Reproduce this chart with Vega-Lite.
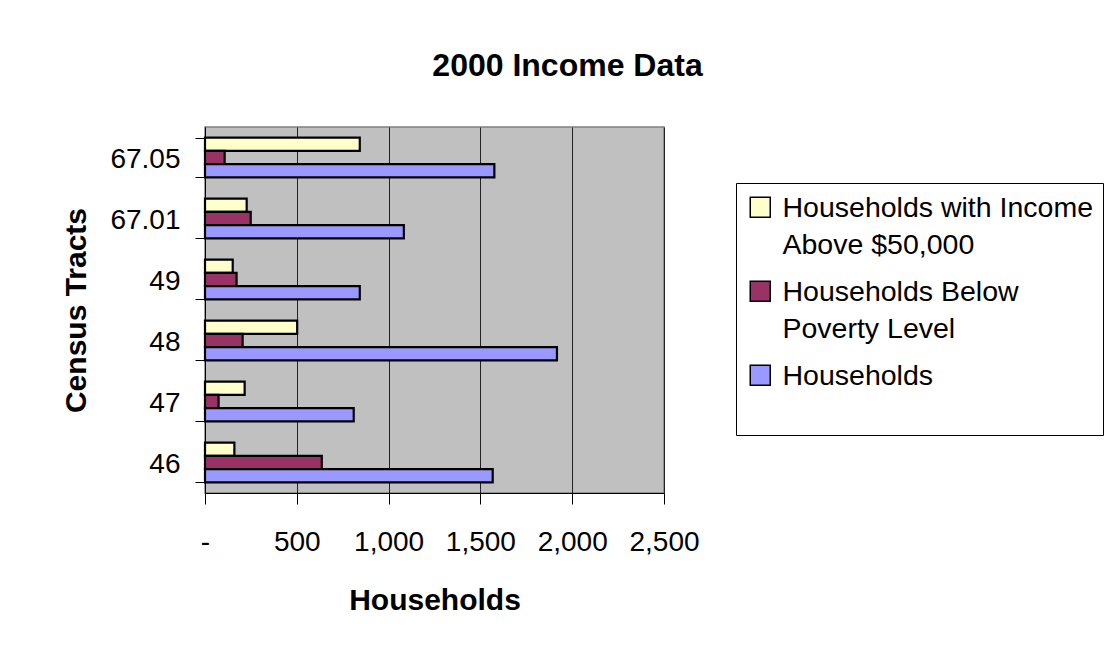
{
  "$schema": "https://vega.github.io/schema/vega-lite/v6.json",
  "width": 459,
  "height": 366,
  "autosize": {"type": "none"},
  "padding": {"left": 205, "top": 127, "right": 448, "bottom": 167},
  "background": "white",
  "title": {
    "text": "2000 Income Data",
    "font": "Liberation Sans",
    "fontSize": 32,
    "fontWeight": "bold",
    "color": "black",
    "anchor": "middle",
    "frame": "group",
    "baseline": "alphabetic",
    "dx": 133,
    "offset": 5
  },
  "data": {
    "values": [
      {"tract": "67.05", "series": "Households with Income Above $50,000", "value": 843},
      {"tract": "67.05", "series": "Households Below Poverty Level", "value": 107},
      {"tract": "67.05", "series": "Households", "value": 1576},
      {"tract": "67.01", "series": "Households with Income Above $50,000", "value": 227},
      {"tract": "67.01", "series": "Households Below Poverty Level", "value": 249},
      {"tract": "67.01", "series": "Households", "value": 1083},
      {"tract": "49", "series": "Households with Income Above $50,000", "value": 151},
      {"tract": "49", "series": "Households Below Poverty Level", "value": 172},
      {"tract": "49", "series": "Households", "value": 843},
      {"tract": "48", "series": "Households with Income Above $50,000", "value": 502},
      {"tract": "48", "series": "Households Below Poverty Level", "value": 205},
      {"tract": "48", "series": "Households", "value": 1917},
      {"tract": "47", "series": "Households with Income Above $50,000", "value": 216},
      {"tract": "47", "series": "Households Below Poverty Level", "value": 74},
      {"tract": "47", "series": "Households", "value": 810},
      {"tract": "46", "series": "Households with Income Above $50,000", "value": 160},
      {"tract": "46", "series": "Households Below Poverty Level", "value": 636},
      {"tract": "46", "series": "Households", "value": 1567}
    ]
  },
  "mark": {"type": "bar", "stroke": "black", "strokeWidth": 2.2},
  "encoding": {
    "y": {
      "field": "tract",
      "type": "nominal",
      "sort": ["67.05", "67.01", "49", "48", "47", "46"],
      "scale": {"paddingInner": 0.35, "paddingOuter": 0.175},
      "axis": {
        "title": "Census Tracts",
        "titleFont": "Liberation Sans",
        "titleFontSize": 30,
        "titleFontWeight": "bold",
        "titleColor": "black",
        "titleAngle": -90,
        "titleBaseline": "alphabetic",
        "titleAlign": "center",
        "titleX": -120,
        "titleY": 183,
        "labelFont": "Liberation Sans",
        "labelFontSize": 28,
        "labelColor": "black",
        "labelPadding": 15,
        "labelOffset": 2,
        "labelAngle": 0,
        "tickSize": 10,
        "tickColor": "black",
        "tickBand": "extent",
        "domainColor": "black",
        "grid": false
      }
    },
    "x": {
      "field": "value",
      "type": "quantitative",
      "scale": {"domain": [0, 2500], "nice": false},
      "axis": {
        "title": "Households",
        "titleFont": "Liberation Sans",
        "titleFontSize": 30,
        "titleFontWeight": "bold",
        "titleColor": "black",
        "titleBaseline": "alphabetic",
        "titleY": 116,
        "values": [0, 500, 1000, 1500, 2000, 2500],
        "labelExpr": "datum.value == 0 ? '-\u00a0\u00a0\u00a0\u00a0' : (datum.value >= 1000 ? '\u00a0' : '') + format(datum.value, ',')",
        "labelFont": "Liberation Sans",
        "labelFontSize": 28,
        "labelColor": "black",
        "labelBaseline": "alphabetic",
        "labelPadding": 46,
        "labelDx": 2,
        "labelFlush": false,
        "labelOverlap": false,
        "tickSize": 11,
        "tickColor": "black",
        "domainColor": "black",
        "grid": true,
        "gridColor": "#222222",
        "gridWidth": 1
      }
    },
    "yOffset": {
      "field": "series",
      "type": "nominal",
      "sort": ["Households with Income Above $50,000", "Households Below Poverty Level", "Households"],
      "scale": {"paddingInner": 0, "paddingOuter": 0}
    },
    "color": {
      "field": "series",
      "type": "nominal",
      "scale": {
        "domain": ["Households with Income Above $50,000", "Households Below Poverty Level", "Households"],
        "range": ["#FFFFCC", "#993366", "#9999FF"]
      },
      "legend": {
        "orient": "none",
        "legendX": 531,
        "legendY": 56,
        "direction": "vertical",
        "padding": 10,
        "strokeColor": "black",
        "fillColor": "white",
        "symbolType": "square",
        "symbolSize": 400,
        "symbolStrokeColor": "black",
        "symbolStrokeWidth": 1.5,
        "labelFont": "Liberation Sans",
        "labelFontSize": 28.5,
        "labelColor": "black",
        "labelLimit": 500,
        "labelOffset": 8,
        "labelBaseline": "alphabetic",
        "labelExpr": "datum.label == 'Households with Income Above $50,000' ? ['Households with Income', 'Above $50,000'] : datum.label == 'Households Below Poverty Level' ? ['Households Below', 'Poverty Level'] : datum.label",
        "rowPadding": 17,
        "title": "\u00a0",
        "titleOrient": "bottom",
        "titleFontSize": 20,
        "titlePadding": 14,
        "encoding": {"labels": {"dy": {"value": 10}}}
      }
    }
  },
  "config": {
    "font": "Liberation Sans",
    "view": {"fill": "#C0C0C0", "stroke": "#808080", "strokeWidth": 1.5},
    "style": {"guide-label": {"lineHeight": 36.7}}
  }
}
